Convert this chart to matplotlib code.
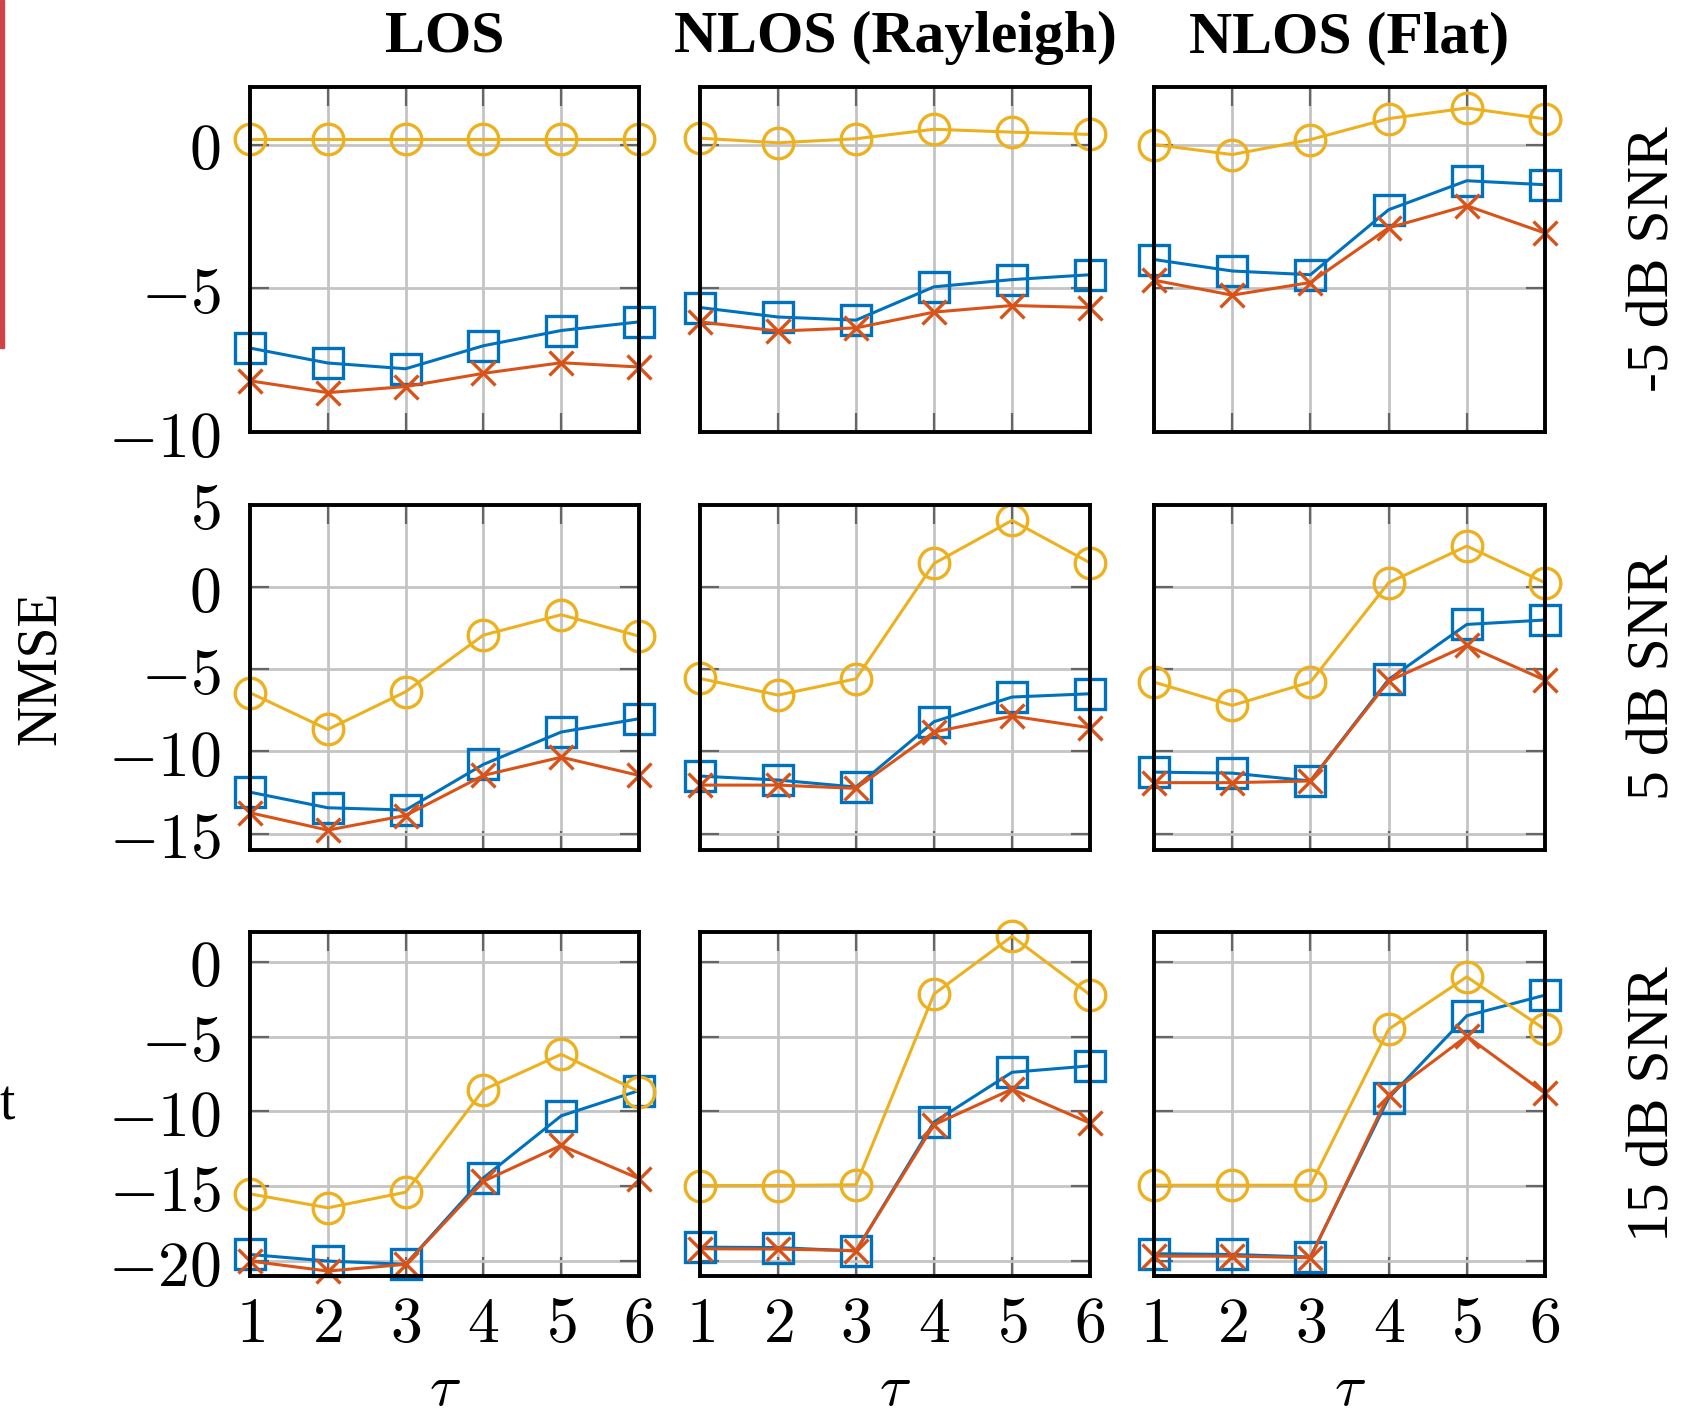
import matplotlib
matplotlib.use('Agg')
import matplotlib.pyplot as plt
from matplotlib.patches import Rectangle

plt.rcParams['mathtext.fontset'] = 'cm'

tau = [1, 2, 3, 4, 5, 6]
col_titles = ['LOS', 'NLOS (Rayleigh)', 'NLOS (Flat)']
row_titles = ['-5 dB SNR', '5 dB SNR', '15 dB SNR']

# each list: [LOS, NLOS Rayleigh, NLOS Flat]
yellow_m5 = [[0.2, 0.2, 0.2, 0.2, 0.2, 0.2],
             [0.22, 0.06, 0.2, 0.53, 0.43, 0.35],
             [0.0, -0.35, 0.17, 0.9, 1.27, 0.89]]
blue_m5 = [[-7.08, -7.6, -7.8, -7.0, -6.47, -6.17],
           [-5.67, -6.0, -6.11, -4.95, -4.7, -4.53],
           [-4.0, -4.4, -4.53, -2.27, -1.26, -1.4]]
red_m5 = [[-8.22, -8.63, -8.42, -7.96, -7.59, -7.74],
          [-6.17, -6.49, -6.38, -5.83, -5.6, -5.67],
          [-4.72, -5.24, -4.8, -2.9, -2.13, -3.08]]

yellow_5 = [[-6.43, -8.66, -6.37, -2.92, -1.68, -2.98],
            [-5.56, -6.57, -5.58, 1.44, 4.06, 1.48],
            [-5.78, -7.2, -5.78, 0.27, 2.5, 0.27]]
blue_5 = [[-12.48, -13.43, -13.57, -10.79, -8.82, -8.01],
          [-11.5, -11.74, -12.17, -8.19, -6.69, -6.49],
          [-11.26, -11.32, -11.8, -5.62, -2.27, -2.0]]
red_5 = [[-13.73, -14.79, -13.9, -11.46, -10.35, -11.46],
         [-12.05, -12.05, -12.25, -8.82, -7.85, -8.56],
         [-11.9, -11.9, -11.8, -5.72, -3.55, -5.66]]

yellow_15 = [[-15.51, -16.44, -15.4, -8.55, -6.18, -8.67],
             [-14.95, -14.95, -14.9, -2.15, 1.71, -2.2],
             [-14.93, -14.93, -14.93, -4.51, -1.0, -4.51]]
blue_15 = [[-19.56, -20.0, -20.22, -14.44, -10.29, -8.6],
           [-19.07, -19.1, -19.33, -10.71, -7.38, -6.95],
           [-19.51, -19.56, -19.73, -9.11, -3.6, -2.22]]
red_15 = [[-20.0, -20.67, -20.22, -14.67, -12.27, -14.49],
          [-19.18, -19.2, -19.3, -10.89, -8.51, -10.78],
          [-19.67, -19.67, -19.78, -8.89, -4.96, -8.78]]

yellows = [yellow_m5, yellow_5, yellow_15]
blues = [blue_m5, blue_5, blue_15]
reds = [red_m5, red_5, red_15]

ylims = [(-10, 2), (-16, 5), (-21, 2)]
yticks = [[-10, -5, 0], [-15, -10, -5, 0, 5], [-20, -15, -10, -5, 0]]

W, H = 1690, 1421
col_px = [(250, 639), (700, 1090), (1154, 1545)]
row_px = [(87, 432), (505, 850), (932, 1276)]

C_BLUE = '#0072BD'
C_RED = '#D95319'
C_YEL = '#EDB120'

fig = plt.figure(figsize=(W / 100, H / 100), dpi=100)

for r in range(3):
    for c in range(3):
        x0, x1 = col_px[c]
        y0, y1 = row_px[r]
        ax = fig.add_axes([x0 / W, 1 - y1 / H, (x1 - x0) / W, (y1 - y0) / H])
        ax.plot(tau, blues[r][c], color=C_BLUE, lw=2.2, marker='s', ms=21,
                mfc='none', mew=2.4, clip_on=False, zorder=3)
        ax.plot(tau, reds[r][c], color=C_RED, lw=2.2, marker='x', ms=17,
                mew=2.4, clip_on=False, zorder=4)
        ax.plot(tau, yellows[r][c], color=C_YEL, lw=2.2, marker='o', ms=22,
                mfc='none', mew=2.4, clip_on=False, zorder=5)
        ax.set_xlim(1, 6)
        ax.set_ylim(*ylims[r])
        ax.set_xticks(tau)
        ax.set_yticks(yticks[r])
        ax.grid(True, color='#c4c4c4', lw=2.0)
        ax.set_axisbelow(True)
        ax.tick_params(direction='in', length=14, width=1.6, color='#666666',
                       top=True, right=True, labelsize=46)
        ax.tick_params(axis='y', pad=21)
        ax.tick_params(axis='x', pad=12)
        for s in ax.spines.values():
            s.set_linewidth(2.8)
            s.set_zorder(6)
        if c == 0:
            ax.set_yticklabels(['$%d$' % v for v in yticks[r]])
        else:
            ax.set_yticklabels([])
        if r == 2:
            ax.set_xticklabels(['$%d$' % v for v in tau])
            ax.set_xlabel(r'$\tau$', fontsize=42, labelpad=4)
        else:
            ax.set_xticklabels([])

for c in range(3):
    xc = (col_px[c][0] + col_px[c][1]) / 2 / W
    fig.text(xc, 1 - 38 / H, col_titles[c], ha='center', va='center',
             fontsize=43, fontweight='bold', family='Liberation Serif')

for r in range(3):
    yc = 1 - (row_px[r][0] + row_px[r][1]) / 2 / H
    fig.text(1655 / W, yc, row_titles[r], ha='center', va='center',
             rotation=90, fontsize=43, family='Liberation Serif')

fig.text(41 / W, 1 - 668 / H, 'NMSE', ha='center', va='center', rotation=90,
         fontsize=40, family='Liberation Serif')

# leftovers at the left edge of the original
fig.patches.append(Rectangle((0, 1 - 348 / H), 4 / W, 348 / H,
                             transform=fig.transFigure, color='#d04448'))
fig.text(0, 1 - 1105 / H, 't', ha='left', va='center', fontsize=40,
         family='Liberation Serif')

fig.savefig('out.png', dpi=100)
